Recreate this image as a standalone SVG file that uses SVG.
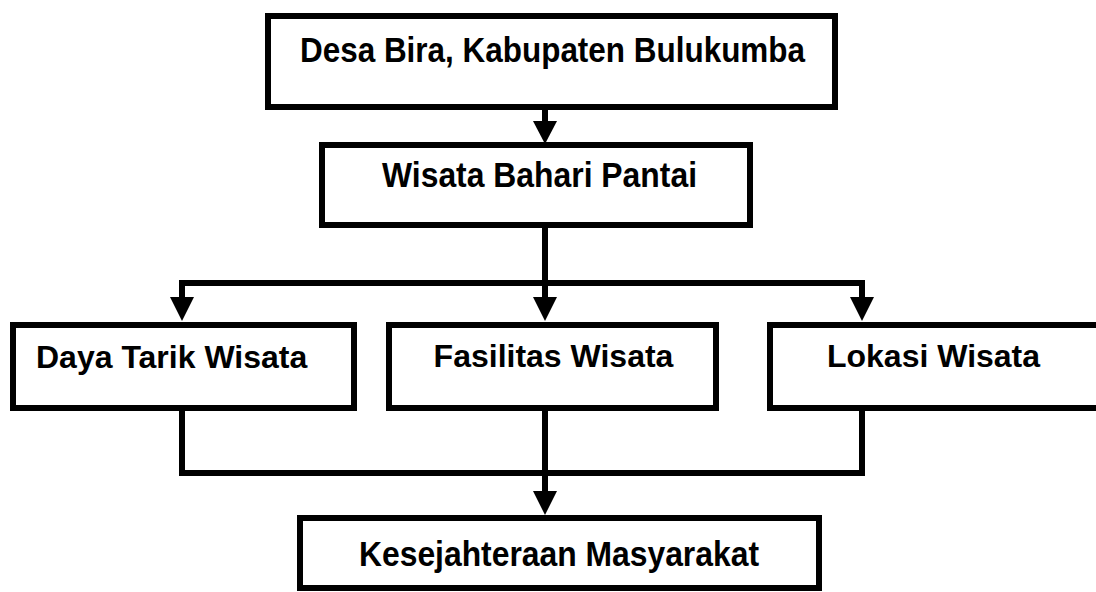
<svg xmlns="http://www.w3.org/2000/svg" width="1096" height="592" viewBox="0 0 1096 592">
  <style>
    .box { fill: #ffffff; stroke: #000000; stroke-width: 6; }
    .lbl { font-family: "Liberation Sans", Arial, sans-serif; font-weight: bold; font-size: 32px; fill: #000000; }
    .tall { font-size: 35px; }
    .ln { stroke: #000000; stroke-width: 6; fill: none; }
    .hd { fill: #000000; }
  </style>
  <rect width="1096" height="592" fill="#ffffff"/>
  <g id="connectors">
    <line class="ln" x1="545" y1="110" x2="545" y2="124"/>
    <polygon class="hd" points="533,121 557,121 545,144"/>
    <line class="ln" x1="545" y1="228" x2="545" y2="283"/>
    <polyline class="ln" points="182,300 182,283 862,283 862,300"/>
    <line class="ln" x1="545" y1="283" x2="545" y2="300"/>
    <polygon class="hd" points="170,297 194,297 182,321"/>
    <polygon class="hd" points="533,297 557,297 545,321"/>
    <polygon class="hd" points="850,297 874,297 862,321"/>
    <polyline class="ln" points="182,408 182,473 862,473 862,405"/>
    <line class="ln" x1="545" y1="408" x2="545" y2="494"/>
    <polygon class="hd" points="533,491 557,491 545,515"/>
  </g>
  <g id="node-desa">
    <rect class="box" x="268" y="16" width="567" height="91"/>
    <text class="lbl tall" x="300" y="62" textLength="505" lengthAdjust="spacingAndGlyphs">Desa Bira, Kabupaten Bulukumba</text>
  </g>
  <g id="node-wisata-bahari">
    <rect class="box" x="322" y="145" width="428" height="80"/>
    <text class="lbl tall" x="382" y="187" textLength="315" lengthAdjust="spacingAndGlyphs">Wisata Bahari Pantai</text>
  </g>
  <g id="node-daya-tarik">
    <rect class="box" x="13" y="325" width="341" height="83"/>
    <text class="lbl" x="36" y="368">Daya Tarik Wisata</text>
  </g>
  <g id="node-fasilitas">
    <rect class="box" x="389" y="325" width="327" height="83"/>
    <text class="lbl" x="553.5" y="367" text-anchor="middle">Fasilitas Wisata</text>
  </g>
  <g id="node-lokasi">
    <rect class="box" x="770" y="325" width="340" height="83"/>
    <text class="lbl" x="933.5" y="367" text-anchor="middle">Lokasi Wisata</text>
  </g>
  <g id="node-kesejahteraan">
    <rect class="box" x="300" y="518" width="519" height="70"/>
    <text class="lbl tall" x="359" y="566" textLength="400" lengthAdjust="spacingAndGlyphs">Kesejahteraan Masyarakat</text>
  </g>
</svg>
